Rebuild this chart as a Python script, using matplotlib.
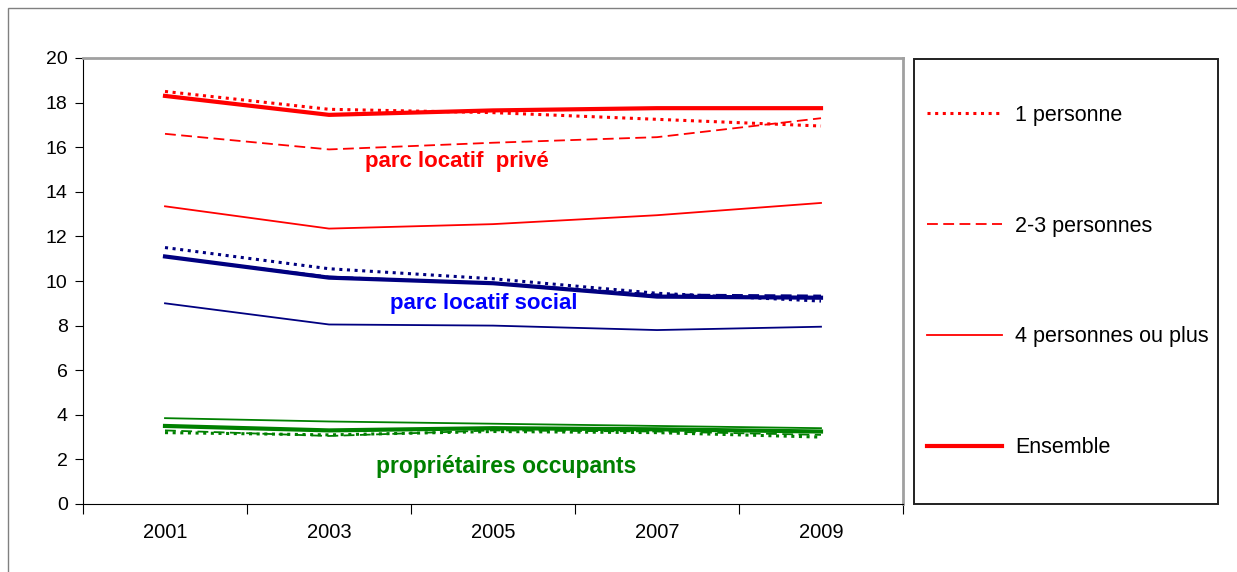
import matplotlib.pyplot as plt
from matplotlib.lines import Line2D
from matplotlib.patches import Rectangle

years = ['2001', '2003', '2005', '2007', '2009']

# parc locatif privé (rouge)
prive_1p = [18.5, 17.7, 17.55, 17.25, 16.95]
prive_23p = [16.6, 15.9, 16.2, 16.45, 17.3]
prive_4p = [13.35, 12.35, 12.55, 12.95, 13.5]
prive_ens = [18.3, 17.45, 17.65, 17.75, 17.75]

# parc locatif social (bleu)
social_1p = [11.5, 10.55, 10.1, 9.45, 9.1]
social_23p = [11.1, 10.2, 9.9, 9.4, 9.35]
social_4p = [9.0, 8.05, 8.0, 7.8, 7.95]
social_ens = [11.1, 10.15, 9.9, 9.3, 9.25]

# propriétaires occupants (vert)
proprio_1p = [3.2, 3.1, 3.25, 3.2, 3.0]
proprio_23p = [3.3, 3.05, 3.3, 3.25, 3.1]
proprio_4p = [3.85, 3.7, 3.6, 3.5, 3.4]
proprio_ens = [3.5, 3.3, 3.4, 3.35, 3.25]

legend_labels = ['1 personne', '2-3 personnes', '4 personnes ou plus', 'Ensemble']

plt.rcParams['font.family'] = ['Liberation Sans', 'DejaVu Sans']

fig = plt.figure(figsize=(12.37, 5.72), dpi=100)
ax = fig.add_axes([83 / 1237, 68 / 572, 820 / 1237, 446 / 572])

x = range(len(years))
styles = [
    dict(ls=(0, (1, 1.5)), lw=2.2),
    dict(ls=(0, (6, 3)), lw=1.3),
    dict(ls='-', lw=1.3),
    dict(ls='-', lw=3),
]
groups = [
    ('#ff0000', [prive_1p, prive_23p, prive_4p, prive_ens]),
    ('#000080', [social_1p, social_23p, social_4p, social_ens]),
    ('#008000', [proprio_1p, proprio_23p, proprio_4p, proprio_ens]),
]
for color, series in groups:
    for vals, st in zip(series, styles):
        ax.plot(x, vals, color=color, **st)

ax.set_xlim(-0.5, 4.5)
ax.set_ylim(0, 20)
ax.set_yticks(range(0, 21, 2))
ax.set_xticks([-0.5, 0.5, 1.5, 2.5, 3.5, 4.5])
ax.set_xticklabels([])
ax.set_xticks(list(x), minor=True)
ax.set_xticklabels(years, minor=True)
ax.tick_params(axis='x', which='minor', length=0, pad=14, labelsize=14.5)
ax.tick_params(axis='x', which='major', length=7, direction='out')
ax.tick_params(axis='y', length=6, direction='out', labelsize=14, pad=5)
for side in ['top', 'right']:
    ax.spines[side].set_color('#a0a0a0')
    ax.spines[side].set_linewidth(2)

ax.text(1.78, 15.35, 'parc locatif  privé', color='#ff0000', fontsize=16,
        fontweight='bold', ha='center', va='center')
ax.text(1.945, 9.0, 'parc locatif social', color='#0000ff', fontsize=16,
        fontweight='bold', ha='center', va='center')
ax.text(2.08, 1.7, 'propriétaires occupants', color='#008000', fontsize=16.5,
        fontweight='bold', ha='center', va='center')

# cadre extérieur et cadre de la légende
fig.patches.append(Rectangle((8 / 1237, -0.1), 1.2, 1.1 - 8 / 572, transform=fig.transFigure,
                             fill=False, edgecolor='#808080', lw=1))
fig.patches.append(Rectangle((914 / 1237, 68 / 572), 304 / 1237, 445 / 572, transform=fig.transFigure,
                             fill=False, edgecolor='#202020', lw=1.4))

handles = [Line2D([], [], color='#ff0000', **st) for st in styles]
fig.legend(handles, legend_labels, loc='center left', bbox_to_anchor=(927 / 1237, 0.508),
           frameon=False, fontsize=15.5, handlelength=3.5, handletextpad=0.6,
           labelspacing=4.17, borderpad=0, borderaxespad=0)

fig.savefig('out.png', dpi=100)
